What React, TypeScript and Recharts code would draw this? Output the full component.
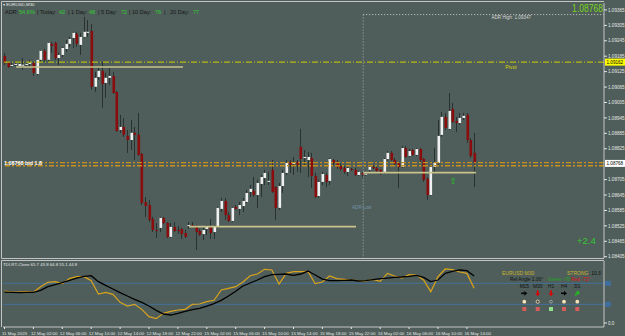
import React from 'react';
import { ComposedChart, Bar, Line, XAxis, YAxis, ReferenceLine, ReferenceDot } from 'recharts';

const BG = '#4f5e5a';
const FG = '#e6e6e6';
const FRAME = '#c4c4c4';
const FONT = '"Liberation Sans", Arial, sans-serif';

// EURUSD M30 bars, oldest first
const opens = [
  1.09186, 1.09159, 1.09151, 1.09155, 1.09147, 1.09151, 1.09151, 1.09159, 1.09159, 1.09116,
  1.09171, 1.09206, 1.09171, 1.09233, 1.09237, 1.09178, 1.0919, 1.09213, 1.09233, 1.09256,
  1.09272, 1.09229, 1.0926, 1.09276, 1.09283, 1.09066, 1.09104, 1.09128, 1.09081, 1.09101,
  1.09108, 1.09046, 1.08898, 1.0891, 1.08875, 1.08859, 1.08887, 1.08879, 1.08805, 1.08618,
  1.08606, 1.08552, 1.08509, 1.08517, 1.08556, 1.08536, 1.08482, 1.08521, 1.08509, 1.08513,
  1.08497, 1.08525, 1.08528, 1.08521, 1.08505, 1.08493, 1.08513, 1.08521, 1.08501, 1.08521,
  1.08591, 1.08622, 1.08567, 1.08544, 1.08599, 1.08591, 1.08602, 1.08618, 1.08657, 1.08661,
  1.08645, 1.08688, 1.08711, 1.08696, 1.08743, 1.08676, 1.08595, 1.0868, 1.08731, 1.08774,
  1.08766, 1.08774, 1.08832, 1.08789, 1.08781, 1.08789, 1.08719, 1.08641, 1.08696, 1.08723,
  1.087, 1.08781, 1.08774, 1.08758, 1.0875, 1.08735, 1.08746, 1.08743, 1.08723, 1.08731,
  1.08727, 1.08743, 1.08754, 1.0875, 1.08743, 1.08735, 1.08785, 1.08809, 1.08781, 1.0877,
  1.08754, 1.08828, 1.08797, 1.0882, 1.08801, 1.08824, 1.08785, 1.08708, 1.08645, 1.08754,
  1.0877, 1.08879, 1.08949, 1.08902, 1.0898, 1.08933, 1.08925, 1.08945, 1.08957, 1.08859,
  1.08809,
];
const highs = [
  1.09198, 1.09163, 1.09159, 1.09163, 1.09163, 1.09178, 1.09163, 1.09171, 1.09163, 1.09174,
  1.09209, 1.09213, 1.0924, 1.09241, 1.09241, 1.09198, 1.09221, 1.09248, 1.0926, 1.0928,
  1.0928, 1.09276, 1.09338, 1.09326, 1.0931, 1.09124, 1.09143, 1.09163, 1.0912, 1.09139,
  1.09124, 1.0905, 1.08957, 1.08945, 1.08898, 1.08937, 1.0891, 1.08964, 1.08809, 1.08637,
  1.08626, 1.0856, 1.08536, 1.0856, 1.0856, 1.0854, 1.08536, 1.0854, 1.08525, 1.08517,
  1.08509, 1.0854, 1.0854, 1.08528, 1.08513, 1.08517, 1.08528, 1.08552, 1.08528, 1.08599,
  1.08634, 1.08634, 1.08579, 1.08599, 1.08606, 1.08618, 1.08634, 1.08665, 1.08684, 1.08715,
  1.08704, 1.08723, 1.08743, 1.08735, 1.08781, 1.0868, 1.08692, 1.08743, 1.08781, 1.08781,
  1.08793, 1.08781, 1.08902, 1.0882, 1.08813, 1.08809, 1.08731, 1.08704, 1.08735, 1.08731,
  1.08789, 1.08785, 1.08781, 1.08766, 1.08758, 1.08754, 1.0875, 1.0875, 1.08739, 1.08735,
  1.08735, 1.08758, 1.08762, 1.08758, 1.08746, 1.08789, 1.08816, 1.08816, 1.08789, 1.08774,
  1.08836, 1.08836, 1.08824, 1.08824, 1.08828, 1.08828, 1.08789, 1.08715, 1.08762, 1.08828,
  1.08937, 1.08968, 1.08964, 1.09042, 1.09003, 1.08949, 1.08964, 1.08964, 1.08964, 1.08867,
  1.08887,
];
const lows = [
  1.09151, 1.09139, 1.09143, 1.09147, 1.09143, 1.09132, 1.09143, 1.09143, 1.09108, 1.09112,
  1.09163, 1.09163, 1.09163, 1.09198, 1.09171, 1.09151, 1.09182, 1.09202, 1.09221, 1.09217,
  1.09221, 1.0919, 1.09256, 1.0926, 1.09054, 1.09046, 1.09093, 1.08984, 1.09023, 1.09073,
  1.09038, 1.0889, 1.08887, 1.08871, 1.08809, 1.0882, 1.08781, 1.08797, 1.08606, 1.0856,
  1.0854, 1.08501, 1.08478, 1.08501, 1.08532, 1.08478, 1.08478, 1.08501, 1.08493, 1.08474,
  1.08478, 1.08513, 1.08521, 1.08431, 1.08486, 1.0847, 1.0849, 1.08474, 1.08474, 1.08517,
  1.08579, 1.08548, 1.0854, 1.0854, 1.08587, 1.08567, 1.08579, 1.08614, 1.08637, 1.08637,
  1.08595, 1.08637, 1.08684, 1.08684, 1.08653, 1.08548, 1.08587, 1.08653, 1.08723, 1.08731,
  1.08723, 1.08735, 1.08731, 1.08762, 1.08715, 1.08672, 1.08634, 1.08634, 1.08684, 1.08676,
  1.08684, 1.08762, 1.08746, 1.08739, 1.08727, 1.08719, 1.08739, 1.08719, 1.08719, 1.08711,
  1.08719, 1.08735, 1.08746, 1.08731, 1.08723, 1.08727, 1.08778, 1.08778, 1.08758, 1.08672,
  1.0875, 1.08789, 1.08793, 1.08797, 1.08797, 1.08774, 1.08696, 1.08626, 1.08641, 1.08735,
  1.08762, 1.08871, 1.08898, 1.08898, 1.08925, 1.0889, 1.08918, 1.08937, 1.08848, 1.08789,
  1.08676,
];
const closes = [
  1.09159, 1.09143, 1.09151, 1.09155, 1.09155, 1.09152, 1.09155, 1.09159, 1.0912, 1.09171,
  1.09206, 1.09171, 1.09237, 1.09225, 1.09178, 1.0919, 1.09217, 1.09233, 1.09252, 1.09276,
  1.09233, 1.0926, 1.0928, 1.0928, 1.09066, 1.09101, 1.09128, 1.09077, 1.09101, 1.09108,
  1.09042, 1.08894, 1.0891, 1.08879, 1.08859, 1.08887, 1.08879, 1.08801, 1.08614, 1.08602,
  1.08548, 1.08509, 1.08507, 1.08556, 1.08536, 1.08482, 1.08521, 1.08505, 1.08508, 1.08493,
  1.08482, 1.08528, 1.08527, 1.08501, 1.0849, 1.08509, 1.08521, 1.08497, 1.08521, 1.08595,
  1.08622, 1.08567, 1.08544, 1.08595, 1.08591, 1.08606, 1.08622, 1.08653, 1.08669, 1.08645,
  1.08692, 1.08715, 1.08731, 1.087, 1.08657, 1.08595, 1.0868, 1.08731, 1.0877, 1.08762,
  1.0877, 1.08762, 1.08785, 1.08793, 1.08793, 1.08719, 1.08637, 1.08696, 1.08727, 1.08696,
  1.08785, 1.0877, 1.08754, 1.08746, 1.08735, 1.0875, 1.08745, 1.08723, 1.08735, 1.08723,
  1.08728, 1.08754, 1.08753, 1.08739, 1.08731, 1.08785, 1.08809, 1.08781, 1.08766, 1.08754,
  1.08828, 1.08793, 1.08816, 1.08801, 1.08824, 1.08781, 1.08704, 1.08645, 1.08754, 1.0877,
  1.08875, 1.08949, 1.08906, 1.08972, 1.08929, 1.08925, 1.08945, 1.08953, 1.08859, 1.08797,
  1.0877,
];

const priceTicks = [
  1.09365, 1.09305, 1.09245, 1.09185, 1.09125, 1.09065, 1.09005, 1.08945,
  1.08885, 1.08825, 1.08705, 1.08645, 1.08585, 1.08525, 1.08465, 1.08405,
];

const timeTickBars = [0, 8, 16, 24, 32, 40, 48, 56, 64, 72, 80, 88, 96, 104, 112, 120, 128];
const timeLabels = [
  '11 May 2023', '12 May 02:00', '12 May 06:00', '12 May 10:00', '12 May 14:00', '12 May 18:00',
  '12 May 22:00', '15 May 02:00', '15 May 06:00', '15 May 10:00', '15 May 14:00', '15 May 18:00',
  '15 May 22:00', '16 May 02:00', '16 May 06:00', '16 May 10:00', '16 May 14:00',
];

// TDI lines, read every second bar
const tdiPrice = [
  54.9, 53.1, 53.1, 53.7, 52.6, 62.3, 69.7, 70.9, 67.4, 76.0, 79.4, 79.4, 72.6, 49.7, 52.6, 49.1,
  35.4, 29.1, 32.0, 23.4, 10.9, 7.4, 16.6, 20.0, 22.3, 23.4, 32.0, 32.6, 36.6, 38.9, 56.6, 59.4,
  62.3, 70.3, 81.1, 84.0, 92.0, 90.9, 66.9, 85.1, 88.0, 88.0, 88.6, 67.4, 70.3, 80.6, 76.0, 74.9,
  73.7, 72.6, 72.0, 74.9, 71.4, 85.1, 80.6, 77.1, 82.9, 82.3, 73.7, 53.7, 79.4, 92.6, 91.4, 87.4,
  85.1, 59.4,
];
const tdiSignal = [
  53.1, 52.6, 52.0, 52.6, 52.6, 56.0, 62.3, 65.7, 69.1, 73.1, 77.1, 80.0, 81.1, 70.9, 64.6, 58.3,
  52.0, 46.3, 40.6, 35.4, 29.1, 21.7, 15.4, 13.7, 16.6, 20.0, 22.9, 25.1, 29.1, 33.1, 38.9, 46.3,
  54.3, 63.4, 68.6, 73.7, 79.4, 82.9, 83.4, 84.0, 81.7, 84.0, 89.1, 82.3, 75.4, 72.6, 72.6, 73.1,
  73.7, 72.0, 72.6, 74.3, 76.0, 77.1, 78.3, 78.9, 80.0, 81.7, 78.3, 70.9, 73.7, 85.1, 88.6, 90.9,
  89.7, 80.6,
];

const PIVOT = 1.09162;
const LAST = 1.08768;
const ADR_HIGH = 1.09347;
const bandLines = [1.08771, 1.08759];
const rangeLines = [
  { from: 3.2, to: 49.4, price: 1.09143 },
  { from: 51.1, to: 97.3, price: 1.08522 },
  { from: 99.3, to: 130.5, price: 1.08732 },
];
const DAY_BAR = 99.3;
const ARROW_BAR = 124.2;
const ARROW_PRICE = 1.087;

const X_DOMAIN: [number, number] = [-0.415, 165.95];
const candles = opens.map((o, i) => ({ i, o, h: highs[i], l: lows[i], c: closes[i], range: [lows[i], highs[i]] }));
const tdiData = tdiPrice.map((p, k) => ({ i: k * 2, price: p, signal: tdiSignal[k] }));

function Candle(props: any) {
  const { x, y, width, height, payload } = props;
  if (x == null || !payload) return null;
  const cx = Math.round(x + width / 2);
  const { o, h, l, c } = payload;
  const span = h - l;
  const py = (v: number) => (span > 0 ? y + ((h - v) / span) * height : y);
  const top = py(Math.max(o, c));
  const bot = py(Math.min(o, c));
  const up = c >= o;
  return (
    <g>
      <line x1={cx + 0.5} x2={cx + 0.5} y1={y} y2={y + height} stroke="#2a3230" strokeWidth={1} />
      <rect x={cx - 0.5} y={top} width={2.6} height={Math.max(1, bot - top)} fill={up ? '#f0f0f0' : '#8a0c0c'} />
    </g>
  );
}

function PriceTick({ x, y, payload }: any) {
  return (
    <text x={x} y={y + 1.7} fontSize={4.6} fill={FG} fontFamily={FONT}>
      {payload.value.toFixed(5)}
    </text>
  );
}

function TimeTick({ x, y, payload }: any) {
  const k = timeTickBars.indexOf(payload.value);
  return (
    <text x={x - 2.5} y={y + 4} fontSize={4.4} fill={FG} fontFamily={FONT}>
      {timeLabels[k]}
    </text>
  );
}

function IndTick({ x, y, payload }: any) {
  return (
    <text x={x} y={y + 1.7} fontSize={4.6} fill={FG} fontFamily={FONT}>
      {payload.value.toFixed(1)}
    </text>
  );
}

function AxisBox({ viewBox, text, fill, color }: any) {
  const x = viewBox.x + viewBox.width + 1;
  const y = viewBox.y;
  return (
    <g>
      <rect x={x} y={y - 3.5} width={20} height={7} fill={fill} />
      <text x={x + 1.5} y={y + 1.8} fontSize={4.6} fill={color} fontFamily={FONT}>{text}</text>
    </g>
  );
}

function PivotLabel({ viewBox }: any) {
  const x = viewBox.x + viewBox.width + 1;
  const y = viewBox.y;
  return (
    <g>
      <text x={511} y={y + 7} fontSize={5.2} fill="#d6d600" textAnchor="middle" fontFamily={FONT}>Pivot</text>
      <rect x={x} y={y - 3.5} width={20} height={7} fill="#ffff00" />
      <text x={x + 1.5} y={y + 1.8} fontSize={4.6} fill="#000" fontFamily={FONT}>1.09162</text>
    </g>
  );
}

function AdrLabel({ viewBox }: any) {
  return (
    <text x={viewBox.x + 148} y={viewBox.y + 4.5} fontSize={4.6} fill="#d8d8d8" textAnchor="middle" fontFamily={FONT}>
      ADR High: 1.09347
    </text>
  );
}

function LevelBox({ viewBox }: any) {
  const x = viewBox.x + viewBox.width + 1;
  return <rect x={x} y={viewBox.y - 2.5} width={6} height={5} fill="#3f6e9c" />;
}

function Arrow({ cx, cy, angle, color }: { cx: number; cy: number; angle: number; color: string }) {
  return (
    <g transform={`rotate(${angle} ${cx} ${cy})`}>
      <rect x={cx - 3} y={cy - 0.8} width={3} height={1.6} fill={color} />
      <polygon points={`${cx},${cy - 2.4} ${cx + 3},${cy} ${cx},${cy + 2.4}`} fill={color} />
    </g>
  );
}

const tfCols = [524.3, 537.7, 551, 564, 577.3];
const tfNames = ['M15', 'M30', 'H1', 'H4', 'D1'];

export default function App() {
  return (
    <div style={{ position: 'fixed', left: 0, top: 0, width: 625, height: 336, background: BG, overflow: 'hidden' }}>
      <div style={{ position: 'absolute', left: 0, top: 0 }}>
        <ComposedChart width={625} height={259} data={candles} margin={{ top: 3, right: 0, left: 3, bottom: 1 }}>
          <XAxis type="number" dataKey="i" domain={X_DOMAIN} allowDataOverflow hide />
          <YAxis
            orientation="right"
            width={21}
            domain={[1.084, 1.09392]}
            allowDataOverflow
            ticks={priceTicks}
            interval={0}
            tick={<PriceTick />}
            tickSize={3}
            tickMargin={1}
            tickLine={{ stroke: FG }}
            axisLine={{ stroke: FRAME }}
          />
          <ReferenceLine y={PIVOT} stroke="#d2d200" strokeDasharray="6 2 1 2" label={<PivotLabel />} />
          {bandLines.map((p) => (
            <ReferenceLine key={p} y={p} stroke="#c8901c" strokeWidth={1.4} strokeDasharray="5 2 2 2" />
          ))}
          {rangeLines.map((r) => (
            <ReferenceLine key={r.price} segment={[{ x: r.from, y: r.price }, { x: r.to, y: r.price }]} stroke="#c9c38c" strokeWidth={1.6} />
          ))}
          <ReferenceLine
            segment={[{ x: DAY_BAR, y: ADR_HIGH }, { x: X_DOMAIN[1], y: ADR_HIGH }]}
            stroke="#cfcfcf"
            strokeDasharray="1 2"
            label={<AdrLabel />}
          />
          <ReferenceLine segment={[{ x: DAY_BAR, y: ADR_HIGH }, { x: DAY_BAR, y: 1.084 }]} stroke="#a8b0ae" strokeDasharray="1 2" />
          <ReferenceLine y={LAST} stroke="none" label={<AxisBox text="1.08768" fill="#ffffff" color="#000" />} />
          <Bar dataKey="range" barSize={3} shape={<Candle />} isAnimationActive={false} />
          <ReferenceDot
            x={ARROW_BAR}
            y={ARROW_PRICE}
            r={0}
            shape={(p: any) => (
              <text x={p.cx} y={p.cy + 3} fontSize={9} fill="#22c822" textAnchor="middle" fontFamily="DejaVu Sans">⇧</text>
            )}
          />
        </ComposedChart>
      </div>
      <div style={{ position: 'absolute', left: 0, top: 259 }}>
        <ComposedChart width={625} height={77} data={tdiData} margin={{ top: 2, right: 0, left: 3, bottom: 0 }}>
          <XAxis
            type="number"
            dataKey="i"
            domain={X_DOMAIN}
            allowDataOverflow
            ticks={timeTickBars}
            interval={0}
            tick={<TimeTick />}
            tickSize={2}
            tickLine={{ stroke: FG }}
            axisLine={{ stroke: FRAME }}
            height={9}
          />
          <YAxis
            orientation="right"
            width={21}
            domain={[-6.86, 106.3]}
            allowDataOverflow
            ticks={[0]}
            tick={<IndTick />}
            tickSize={3}
            tickMargin={1}
            tickLine={{ stroke: FG }}
            axisLine={{ stroke: FRAME }}
          />
          <ReferenceLine y={68} stroke="#44709c" label={<LevelBox />} />
          <ReferenceLine y={32} stroke="#44709c" label={<LevelBox />} />
          <Line type="linear" dataKey="price" stroke="#d9a31c" strokeWidth={1.2} dot={false} isAnimationActive={false} />
          <Line type="linear" dataKey="signal" stroke="#000000" strokeWidth={1.3} dot={false} isAnimationActive={false} />
        </ComposedChart>
      </div>
      <svg width={625} height={336} style={{ position: 'absolute', left: 0, top: 0, pointerEvents: 'none' }} fontFamily={FONT}>
        {/* frames */}
        <line x1={1.5} y1={1.5} x2={604} y2={1.5} stroke={FRAME} />
        <line x1={1.5} y1={1.5} x2={1.5} y2={258.5} stroke={FRAME} />
        <line x1={1.5} y1={258.5} x2={604} y2={258.5} stroke={FRAME} />
        <line x1={1.5} y1={260.5} x2={604} y2={260.5} stroke={FRAME} />
        <line x1={1.5} y1={260.5} x2={1.5} y2={327} stroke={FRAME} />

        <text x={3} y={6} fontSize={4.4} fill={FG}>▾ EURUSD,M30</text>
        <text y={13.6} fontSize={5.6}>
          <tspan x={5} fill="#161616">ADR:</tspan>
          <tspan x={19} fill="#30cc30">54.6%</tspan>
          <tspan x={37} fill="#161616">| Today:</tspan>
          <tspan x={59} fill="#30cc30">42</tspan>
          <tspan x={68} fill="#161616">| 1 Day:</tspan>
          <tspan x={89} fill="#30cc30">48</tspan>
          <tspan x={98} fill="#161616">| 5 Day:</tspan>
          <tspan x={121} fill="#30cc30">72</tspan>
          <tspan x={129} fill="#161616">| 10 Day:</tspan>
          <tspan x={155} fill="#30cc30">76</tspan>
          <tspan x={164} fill="#161616">|</tspan>
          <tspan x={170} fill="#161616">20 Day:</tspan>
          <tspan x={193} fill="#30cc30">77</tspan>
        </text>
        <text x={572} y={12} fontSize={10} fill="#7ad41e" textLength={31} lengthAdjust="spacingAndGlyphs">1.08768</text>
        <text x={577} y={244} fontSize={9.5} fill="#33c833">+2.4</text>
        <text x={4} y={165} fontSize={5.4} fill="#ffffff" fontWeight="bold">1.08768 bid 1.8</text>
        <text x={352} y={209} fontSize={4.6} fill="#7593a8">ADR Low</text>

        <text x={3} y={265.5} fontSize={4.3} fill={FG}>TDI-RT-Clone 65.7 43.8 64.8 55.1 44.8</text>
        <text x={502} y={275} fontSize={5} fill="#c9b52a">EURUSD  M30</text>
        <text x={567} y={275} fontSize={5}>
          <tspan fill="#c9b52a">STRONG</tspan>
          <tspan fill="#111">: 10.3</tspan>
        </text>
        <text x={510} y={281} fontSize={4.8} fill="#111">Rel Angle 1.06°</text>
        <text x={548} y={281} fontSize={4.8} fill="#22aa22">Green -76°</text>
        <text x={571} y={281} fontSize={4.8} fill="#e01010">Red -72°</text>
        {tfNames.map((n, k) => (
          <text key={n} x={tfCols[k]} y={288} fontSize={4.8} fill="#111" textAnchor="middle">{n}</text>
        ))}
        <Arrow cx={tfCols[0]} cy={293.3} angle={0} color="#000" />
        <Arrow cx={tfCols[1]} cy={293.3} angle={90} color="#e00000" />
        <Arrow cx={tfCols[2]} cy={293.3} angle={90} color="#e00000" />
        <Arrow cx={tfCols[3]} cy={293.3} angle={0} color="#000" />
        <Arrow cx={tfCols[4]} cy={293.3} angle={-45} color="#20c020" />
        <circle cx={tfCols[0]} cy={301.7} r={1.9} fill="#f7e2b8" />
        <circle cx={tfCols[1]} cy={301.7} r={1.6} fill="#3a3a3a" stroke="#f7e2b8" strokeWidth={0.9} />
        <circle cx={tfCols[2]} cy={301.7} r={1.4} fill="none" stroke="#a8a8a8" strokeWidth={0.8} />
        <circle cx={tfCols[3]} cy={301.7} r={1.9} fill="#f7e2b8" />
        <circle cx={tfCols[4]} cy={301.7} r={1.9} fill="#f7e2b8" />
        {tfCols.map((c, k) => (
          <rect key={k} x={c - 2} y={307} width={4} height={4} fill={k === 2 ? '#90e090' : '#d45c5c'} />
        ))}
      </svg>
    </div>
  );
}
